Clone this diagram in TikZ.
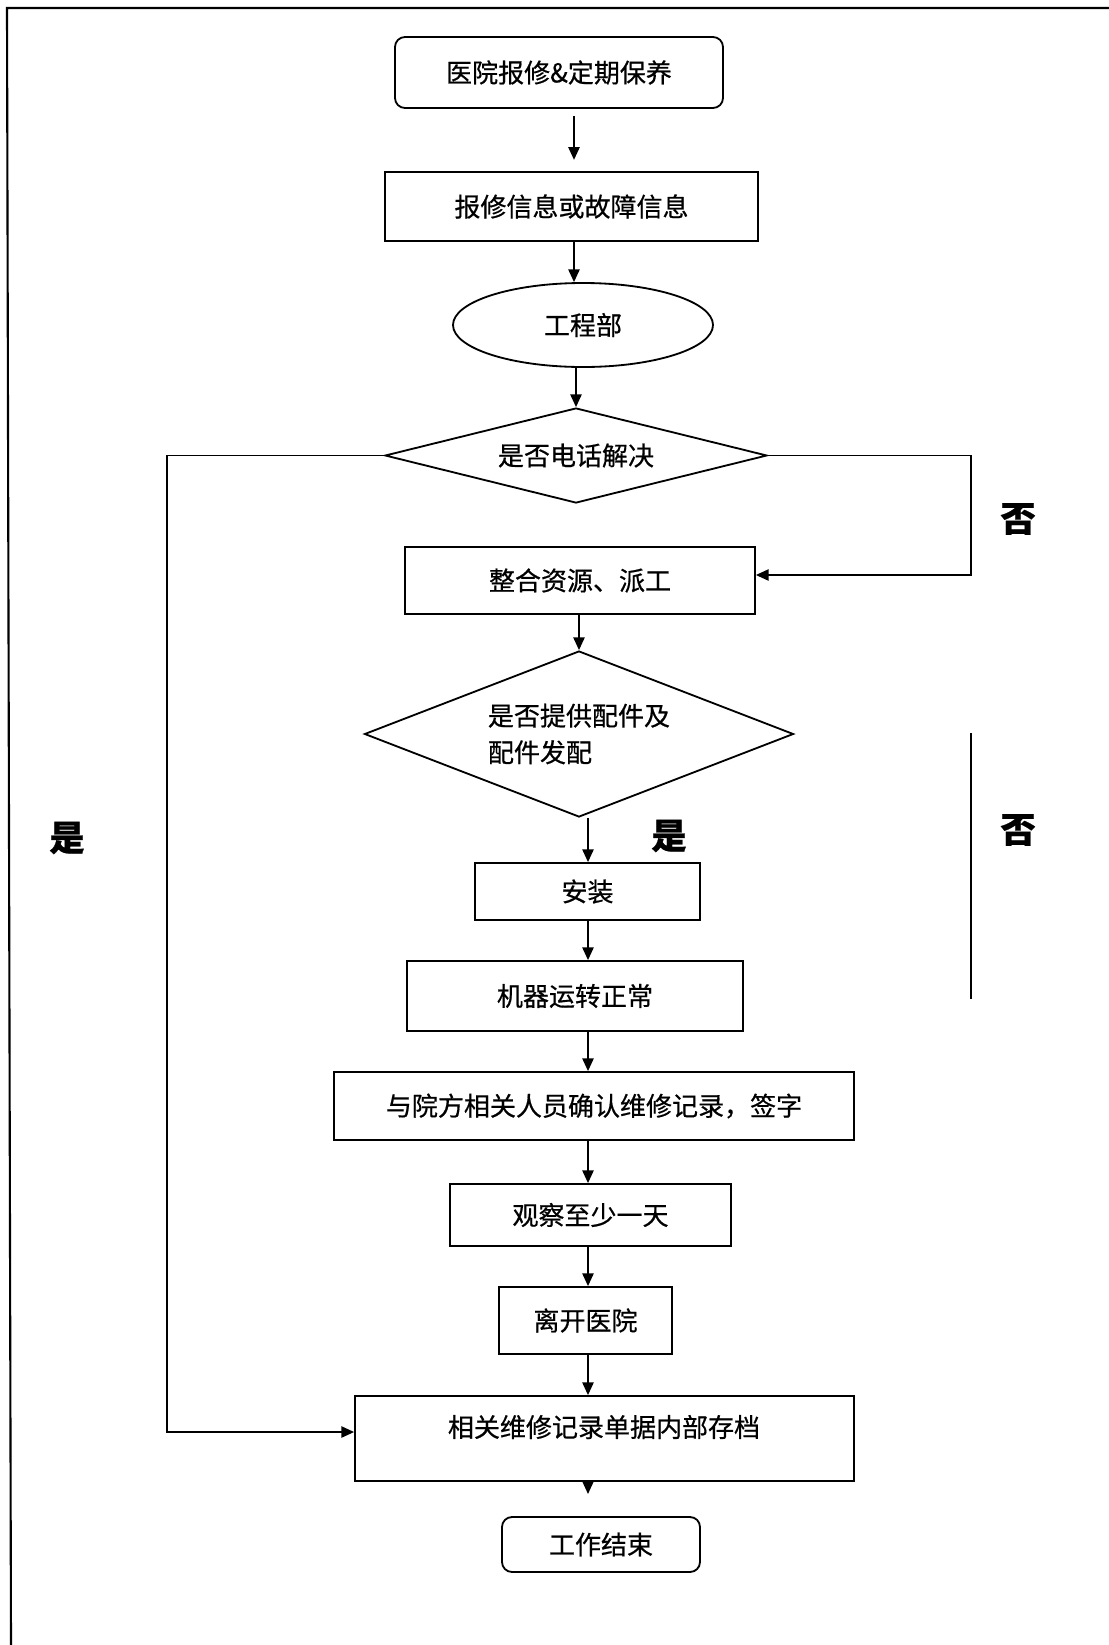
\documentclass[tikz,border=0pt]{standalone}
\usepackage{fontspec}
\newfontfamily\cjk{Noto Sans CJK SC}[FakeBold=0.6]
\usetikzlibrary{shapes.geometric,arrows.meta}
\newcommand\pxu[1]{#1*0.025cm}
\tikzset{
  base/.style={draw=black, line width=1.3pt, inner sep=0pt, text=black,
    font=\cjk\fontsize{18.5}{26}\selectfont},
  procbox/.style={base, rectangle},
  termbox/.style={base, rectangle, rounded corners=2.5mm},
  decbox/.style={base, diamond},
  ovalbox/.style={base, ellipse},
  txt/.style={inner sep=0pt, text=black, font=\cjk\fontsize{18.5}{26}\selectfont},
  arr/.style={line width=1.1pt, -{Triangle[length=9pt,width=8pt]}},
  conn/.style={line width=1.1pt},
  lbl/.style={inner sep=0pt, text=black, font=\cjk\bfseries\fontsize{25}{30}\selectfont}
}
\begin{document}
\begin{tikzpicture}[x=0.025cm,y=-0.025cm]
\useasboundingbox (0,0) rectangle (1109,1645);
% frame
\coordinate (f1) at (1109,8);
\coordinate (f2) at (7,8);
\coordinate (f3) at (11,1645);
\draw[line width=1.5pt] (f1) -- (f2) -- (f3);

% nodes
\node[termbox, minimum width=\pxu{328}, minimum height=\pxu{71}] (n1) at (559,72.5) {医院报修\&定期保养};
\node[procbox, minimum width=\pxu{373}, minimum height=\pxu{69}] (n2) at (571.5,206.5) {报修信息或故障信息};
\node[ovalbox, minimum width=\pxu{260}, minimum height=\pxu{84}] (n3) at (583,325) {工程部};
\node[decbox, aspect=4, minimum width=\pxu{382}, minimum height=\pxu{95}] (d1) at (576,455.5) {是否电话解决};
\node[procbox, minimum width=\pxu{350}, minimum height=\pxu{67}] (n5) at (580,580.5) {整合资源、派工};
\node[decbox, aspect=2.6, align=left, minimum width=\pxu{429}, minimum height=\pxu{166}] (d2) at (579,734) {是否提供配件及\\配件发配};
\node[procbox, minimum width=\pxu{225}, minimum height=\pxu{57}] (n7) at (587.5,891.5) {安装};
\node[procbox, minimum width=\pxu{336}, minimum height=\pxu{70}] (n8) at (575,996) {机器运转正常};
\node[procbox, minimum width=\pxu{520}, minimum height=\pxu{68}] (n9) at (594,1106) {与院方相关人员确认维修记录，签字};
\node[procbox, minimum width=\pxu{281}, minimum height=\pxu{62}] (n10) at (590.5,1215) {观察至少一天};
\node[procbox, minimum width=\pxu{173}, minimum height=\pxu{67}] (n11) at (585.5,1320.5) {离开医院};
\node[procbox, minimum width=\pxu{499}, minimum height=\pxu{85}] (n12) at (604.5,1438.5) {};
\node[txt] (t12) at (604,1427) {相关维修记录单据内部存档};
\node[termbox, minimum width=\pxu{198}, minimum height=\pxu{55}] (n13) at (601,1544.5) {工作结束};

% labels
\node[lbl] (no1) at (1018,519) {否};
\node[lbl] (no2) at (1018,830) {否};
\node[lbl] (yes1) at (669,836) {是};
\node[lbl] (yes2) at (67,838) {是};

% helper coordinates
\coordinate (cx1) at (574,0);
\coordinate (cx2) at (588,0);
\coordinate (lx) at (167,0);
\coordinate (rx) at (971,0);
\coordinate (e12) at (588,1494);
\coordinate (ly) at (0,1432);
\coordinate (ry) at (0,575);
\coordinate (s1) at (971,733);
\coordinate (s2) at (971,999);

% connectors
\draw[arr, shorten <=5pt, shorten >=8pt] (n1.south -| cx1) -- (n2.north -| cx1);
\draw[arr] (n2.south -| cx1) -- (n3.north -| cx1);
\draw[arr] (n3.south -| d1.north) -- (d1.north);
\draw[arr] (n5.south -| d2.north) -- (d2.north);
\draw[arr] (d2.south -| cx2) -- (n7.north -| cx2);
\draw[arr] (n7.south -| cx2) -- (n8.north -| cx2);
\draw[arr] (n8.south -| cx2) -- (n9.north -| cx2);
\draw[arr] (n9.south -| cx2) -- (n10.north -| cx2);
\draw[arr] (n10.south -| cx2) -- (n11.north -| cx2);
\draw[arr] (n11.south -| cx2) -- (n12.north -| cx2);
\draw[arr] (n12.south -| e12) -- (e12);
\draw[arr] (d1.west) -- (d1.west -| lx) -- (lx |- ly) -- (n12.west |- ly);
\draw[arr] (d1.east) -- (d1.east -| rx) -- (rx |- ry) -- (n5.east |- ry);
\draw[conn] (s1) -- (s2);
\end{tikzpicture}
\end{document}
